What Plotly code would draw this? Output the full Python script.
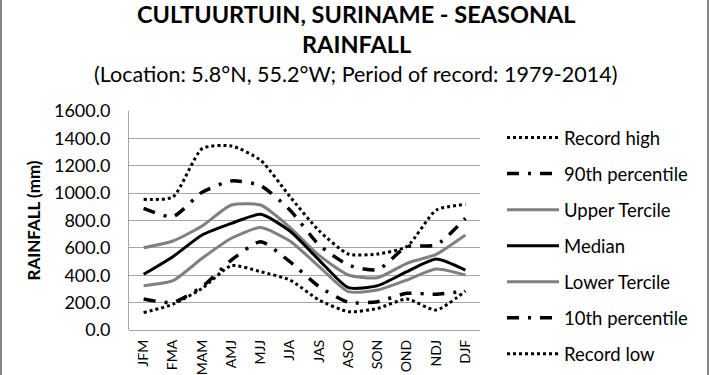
import plotly.graph_objects as go

seasons = ["JFM", "FMA", "MAM", "AMJ", "MJJ", "JJA", "JAS", "ASO", "SON", "OND", "NDJ", "DJF"]
record_high = [955, 972, 1325, 1345, 1240, 975, 725, 555, 555, 610, 875, 918]
p90 = [889, 828, 1006, 1089, 1054, 877, 621, 475, 440, 609, 621, 816]
upper_tercile = [601, 650, 760, 913, 913, 750, 545, 402, 382, 487, 553, 694]
median = [407, 536, 694, 779, 845, 723, 511, 309, 324, 426, 519, 438]
lower_tercile = [324, 360, 524, 670, 748, 650, 463, 280, 292, 365, 446, 402]
p10 = [226, 202, 317, 511, 645, 499, 317, 202, 207, 268, 261, 285]
record_low = [127, 188, 304, 470, 426, 365, 219, 134, 158, 226, 146, 285]
y_ticks = [0, 200, 400, 600, 800, 1000, 1200, 1400, 1600]

FONT = "Lato"
dashdot = "12px,9px,3px,9px"
series = [
    ("Record high", record_high, "black", "dot", 3),
    ("90th percentile", p90, "black", dashdot, 3.5),
    ("Upper Tercile", upper_tercile, "#808080", "solid", 3),
    ("Median", median, "black", "solid", 3),
    ("Lower Tercile", lower_tercile, "#808080", "solid", 3),
    ("10th percentile", p10, "black", dashdot, 3.5),
    ("Record low", record_low, "black", "dot", 3),
]

fig = go.Figure()
for i, (name, vals, color, dash, w) in enumerate(series):
    fig.add_trace(go.Scatter(
        x=seasons, y=vals, name=name, mode="lines",
        line=dict(color=color, dash=dash, width=w, shape="spline", smoothing=0.6),
        legendgroup=str(i),
    ))

W, H = 710, 375
L, R, T, B = 129, 230, 111, 45

def px(xp):
    return (xp - L) / (W - L - R)

def py(yp):
    return (H - B - yp) / (H - T - B)

fig.update_layout(
    width=W, height=H,
    margin=dict(l=L, r=R, t=T, b=B, autoexpand=False),
    paper_bgcolor="white", plot_bgcolor="white",
    font=dict(family=FONT, color="black"),
    showlegend=True,
    legend=dict(
        x=px(502), y=py(119), xanchor="left", yanchor="top",
        font=dict(family=FONT, size=18.5, color="black"),
        tracegroupgap=9, itemwidth=52, bgcolor="rgba(0,0,0,0)",
        maxheight=400,
    ),
    xaxis=dict(
        type="category", categoryorder="array", categoryarray=seasons,
        range=[-0.5, 11.5], tickangle=-90, automargin=False,
        tickfont=dict(family=FONT, size=14, color="black"),
        showgrid=False, showline=False, ticks="", ticklabelstandoff=6,
    ),
    yaxis=dict(
        range=[0, 1600], tickvals=y_ticks, tickformat=".1f", automargin=False,
        tickfont=dict(family=FONT, size=18, color="black"),
        showgrid=True, gridcolor="#a6a6a6", gridwidth=1,
        showline=True, linecolor="#a6a6a6", linewidth=1,
        zeroline=True, zerolinecolor="#a6a6a6", zerolinewidth=1,
        ticks="", ticklen=0, ticklabelstandoff=14,
        title=dict(text="<b>RAINFALL (mm)</b>", font=dict(family=FONT, size=17, color="black"), standoff=8),
    ),
)

fig.add_annotation(text="<b>CULTUURTUIN, SURINAME - SEASONAL</b>", x=px(356), y=py(14),
                   xref="paper", yref="paper", showarrow=False, xanchor="center", yanchor="middle",
                   font=dict(family=FONT, size=23.5, color="black"))
fig.add_annotation(text="<b>RAINFALL</b>", x=px(356), y=py(44),
                   xref="paper", yref="paper", showarrow=False, xanchor="center", yanchor="middle",
                   font=dict(family=FONT, size=23.5, color="black"))
fig.add_annotation(text="(Location: 5.8°N, 55.2°W; Period of record: 1979-2014)", x=px(355), y=py(74),
                   xref="paper", yref="paper", showarrow=False, xanchor="center", yanchor="middle",
                   font=dict(family=FONT, size=21.5, color="black"))

fig.add_shape(type="rect", xref="paper", yref="paper",
              x0=px(1), x1=px(708), y0=py(-5), y1=py(380),
              line=dict(color="#868686", width=2), fillcolor="rgba(0,0,0,0)", layer="above")

fig.write_html("out.html", config={"displayModeBar": False},
               post_script="document.body.style.margin='0';document.body.style.overflow='hidden';")
